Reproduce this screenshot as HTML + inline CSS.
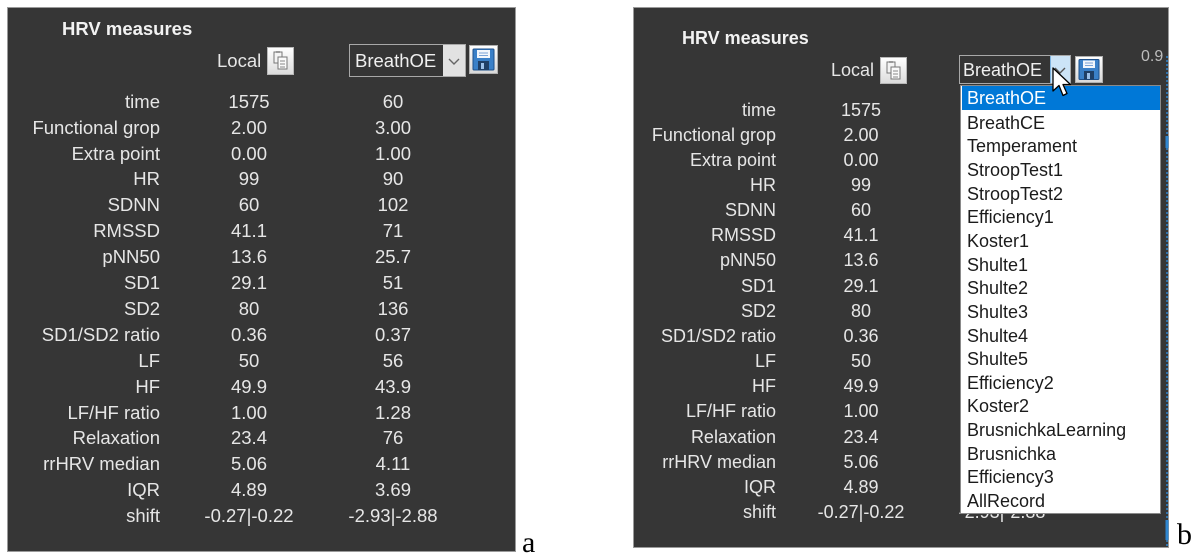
<!DOCTYPE html>
<html>
<head>
<meta charset="utf-8">
<style>
html,body{margin:0;padding:0;}
body{width:1200px;height:556px;background:#fff;position:relative;overflow:hidden;font-family:"Liberation Sans",Arial,sans-serif;}
.p{position:absolute;background:#363636;border:1px solid #9a9a9a;box-sizing:border-box;}
.t{position:absolute;white-space:nowrap;line-height:22px;height:22px;color:#e6e6e6;}
.L{font-size:18.5px;}
.R{font-size:18px;}
.lab{text-align:right;}
.c{text-align:center;width:160px;}
.li{position:absolute;left:1px;width:198px;height:24px;line-height:25px;font-size:18px;color:#1b1b1b;padding-left:5px;box-sizing:border-box;white-space:nowrap;}
.ser{position:absolute;font-family:"Liberation Serif","Times New Roman",serif;font-size:30px;color:#000;line-height:30px;}
</style>
</head>
<body>

<!-- LEFT PANEL -->
<div class="p" style="left:7px;top:7px;width:509px;height:545px;"></div>
<div class="t L" style="left:62px;top:18px;font-weight:bold;color:#f2f2f2;">HRV measures</div>
<div class="t L" style="left:217px;top:50px;">Local</div>
<svg style="position:absolute;left:267px;top:47px" width="27" height="28" viewBox="0 0 27 28">
  <defs><linearGradient id="bg1" x1="0" y1="0" x2="0" y2="1"><stop offset="0" stop-color="#ffffff"/><stop offset="1" stop-color="#dcdcdc"/></linearGradient></defs>
  <rect x="0.5" y="0.5" width="26" height="27" fill="url(#bg1)" stroke="#b8b8b8"/>
  <rect x="7" y="5" width="8" height="11" fill="#f4f4f4" stroke="#777"/>
  <rect x="11" y="10" width="9" height="12" fill="#fafafa" stroke="#777"/>
  <line x1="13" y1="14" x2="18" y2="14" stroke="#888"/>
  <line x1="13" y1="17" x2="18" y2="17" stroke="#888"/>
  <line x1="13" y1="20" x2="18" y2="20" stroke="#888"/>
  <rect x="9" y="4" width="4" height="2" fill="#999"/>
</svg>
<div style="position:absolute;left:349px;top:44px;width:117px;height:33px;border:1px solid #a8a8a8;box-sizing:border-box;background:#353535;"></div>
<div style="position:absolute;left:443px;top:45px;width:22px;height:31px;background:#e2e2e2;"></div>
<svg style="position:absolute;left:443px;top:45px" width="22" height="31"><polyline points="6,14 11,19 16,14" fill="none" stroke="#666" stroke-width="1.4"/></svg>
<div class="t L" style="left:355px;top:50px;color:#f0f0f0;">BreathOE</div>
<svg style="position:absolute;left:469px;top:45px" width="29" height="29" viewBox="0 0 29 29">
  <defs><linearGradient id="bg2" x1="0" y1="0" x2="0" y2="1"><stop offset="0" stop-color="#ffffff"/><stop offset="1" stop-color="#d8d8d8"/></linearGradient></defs>
  <rect x="0.5" y="0.5" width="28" height="28" fill="url(#bg2)" stroke="#b0b0b0"/>
  <rect x="4" y="4" width="21" height="21" rx="1" fill="#3a80c8" stroke="#1d4f8a"/>
  <rect x="8" y="5" width="13" height="8" fill="#f2f6fb"/>
  <line x1="10" y1="8" x2="19" y2="8" stroke="#7aa3d6"/>
  <line x1="10" y1="10.5" x2="19" y2="10.5" stroke="#7aa3d6"/>
  <rect x="9" y="16" width="11" height="9" fill="#1f3f66"/>
  <rect x="12" y="18" width="3" height="6" fill="#9cc0e8"/>
</svg>

<div class="t L lab" style="right:1040px;top:91px;">time</div>
<div class="t L lab" style="right:1040px;top:117px;">Functional grop</div>
<div class="t L lab" style="right:1040px;top:143px;">Extra point</div>
<div class="t L lab" style="right:1040px;top:168px;">HR</div>
<div class="t L lab" style="right:1040px;top:194px;">SDNN</div>
<div class="t L lab" style="right:1040px;top:220px;">RMSSD</div>
<div class="t L lab" style="right:1040px;top:246px;">pNN50</div>
<div class="t L lab" style="right:1040px;top:272px;">SD1</div>
<div class="t L lab" style="right:1040px;top:298px;">SD2</div>
<div class="t L lab" style="right:1040px;top:324px;">SD1/SD2 ratio</div>
<div class="t L lab" style="right:1040px;top:350px;">LF</div>
<div class="t L lab" style="right:1040px;top:376px;">HF</div>
<div class="t L lab" style="right:1040px;top:402px;">LF/HF ratio</div>
<div class="t L lab" style="right:1040px;top:427px;">Relaxation</div>
<div class="t L lab" style="right:1040px;top:453px;">rrHRV median</div>
<div class="t L lab" style="right:1040px;top:479px;">IQR</div>
<div class="t L lab" style="right:1040px;top:505px;">shift</div>

<div class="t L c" style="left:169px;top:91px;">1575</div>
<div class="t L c" style="left:169px;top:117px;">2.00</div>
<div class="t L c" style="left:169px;top:143px;">0.00</div>
<div class="t L c" style="left:169px;top:168px;">99</div>
<div class="t L c" style="left:169px;top:194px;">60</div>
<div class="t L c" style="left:169px;top:220px;">41.1</div>
<div class="t L c" style="left:169px;top:246px;">13.6</div>
<div class="t L c" style="left:169px;top:272px;">29.1</div>
<div class="t L c" style="left:169px;top:298px;">80</div>
<div class="t L c" style="left:169px;top:324px;">0.36</div>
<div class="t L c" style="left:169px;top:350px;">50</div>
<div class="t L c" style="left:169px;top:376px;">49.9</div>
<div class="t L c" style="left:169px;top:402px;">1.00</div>
<div class="t L c" style="left:169px;top:427px;">23.4</div>
<div class="t L c" style="left:169px;top:453px;">5.06</div>
<div class="t L c" style="left:169px;top:479px;">4.89</div>
<div class="t L c" style="left:169px;top:505px;">-0.27|-0.22</div>

<div class="t L c" style="left:313px;top:91px;">60</div>
<div class="t L c" style="left:313px;top:117px;">3.00</div>
<div class="t L c" style="left:313px;top:143px;">1.00</div>
<div class="t L c" style="left:313px;top:168px;">90</div>
<div class="t L c" style="left:313px;top:194px;">102</div>
<div class="t L c" style="left:313px;top:220px;">71</div>
<div class="t L c" style="left:313px;top:246px;">25.7</div>
<div class="t L c" style="left:313px;top:272px;">51</div>
<div class="t L c" style="left:313px;top:298px;">136</div>
<div class="t L c" style="left:313px;top:324px;">0.37</div>
<div class="t L c" style="left:313px;top:350px;">56</div>
<div class="t L c" style="left:313px;top:376px;">43.9</div>
<div class="t L c" style="left:313px;top:402px;">1.28</div>
<div class="t L c" style="left:313px;top:427px;">76</div>
<div class="t L c" style="left:313px;top:453px;">4.11</div>
<div class="t L c" style="left:313px;top:479px;">3.69</div>
<div class="t L c" style="left:313px;top:505px;">-2.93|-2.88</div>

<div class="ser" style="left:522px;top:528px;">a</div>

<!-- RIGHT PANEL -->
<div class="p" style="left:633px;top:7px;width:536px;height:541px;"></div>
<svg style="position:absolute;left:1164px;top:56px" width="5" height="490"><line x1="3" y1="0" x2="3" y2="490" stroke="#2f86d0" stroke-width="1.5" stroke-dasharray="2,2"/><rect x="1.5" y="80" width="3" height="12" fill="#2f86d0"/><rect x="1.5" y="464" width="3" height="20" fill="#2f86d0"/></svg>
<div class="t" style="left:1141px;top:46px;font-size:16px;color:#bdbdbd;">0.9</div>
<div class="t R" style="left:682px;top:27px;font-weight:bold;color:#f2f2f2;">HRV measures</div>
<div class="t R" style="left:831px;top:59px;">Local</div>
<svg style="position:absolute;left:880px;top:57px" width="27" height="27" viewBox="0 0 27 27">
  <defs><linearGradient id="bg3" x1="0" y1="0" x2="0" y2="1"><stop offset="0" stop-color="#ffffff"/><stop offset="1" stop-color="#dcdcdc"/></linearGradient></defs>
  <rect x="0.5" y="0.5" width="26" height="26" fill="url(#bg3)" stroke="#b8b8b8"/>
  <rect x="7" y="5" width="8" height="11" fill="#f4f4f4" stroke="#777"/>
  <rect x="11" y="10" width="9" height="12" fill="#fafafa" stroke="#777"/>
  <line x1="13" y1="14" x2="18" y2="14" stroke="#888"/>
  <line x1="13" y1="17" x2="18" y2="17" stroke="#888"/>
  <line x1="13" y1="20" x2="18" y2="20" stroke="#888"/>
  <rect x="9" y="4" width="4" height="2" fill="#999"/>
</svg>
<div style="position:absolute;left:959px;top:55px;width:112px;height:29px;border:1px solid #a8a8a8;box-sizing:border-box;background:#353535;"></div>
<div style="position:absolute;left:1050px;top:56px;width:20px;height:27px;background:#cce4f7;border-left:1px solid #7fb4e0;box-sizing:border-box;"></div>
<svg style="position:absolute;left:1050px;top:56px" width="20" height="27"><polyline points="5,12 10,17 15,12" fill="none" stroke="#555" stroke-width="1.4"/></svg>
<div class="t R" style="left:963px;top:59px;color:#f0f0f0;">BreathOE</div>
<svg style="position:absolute;left:1075px;top:56px" width="28" height="27" viewBox="0 0 28 27">
  <defs><linearGradient id="bg4" x1="0" y1="0" x2="0" y2="1"><stop offset="0" stop-color="#ffffff"/><stop offset="1" stop-color="#d8d8d8"/></linearGradient></defs>
  <rect x="0.5" y="0.5" width="27" height="26" fill="url(#bg4)" stroke="#b0b0b0"/>
  <rect x="4" y="3.5" width="20" height="20" rx="1" fill="#3a80c8" stroke="#1d4f8a"/>
  <rect x="8" y="4.5" width="12" height="7.5" fill="#f2f6fb"/>
  <line x1="10" y1="7" x2="18" y2="7" stroke="#7aa3d6"/>
  <line x1="10" y1="9.5" x2="18" y2="9.5" stroke="#7aa3d6"/>
  <rect x="9" y="15" width="10" height="8.5" fill="#1f3f66"/>
  <rect x="12" y="17" width="3" height="6" fill="#9cc0e8"/>
</svg>

<div class="t R lab" style="right:424px;top:98.5px;">time</div>
<div class="t R lab" style="right:424px;top:123.7px;">Functional grop</div>
<div class="t R lab" style="right:424px;top:148.8px;">Extra point</div>
<div class="t R lab" style="right:424px;top:174px;">HR</div>
<div class="t R lab" style="right:424px;top:199.1px;">SDNN</div>
<div class="t R lab" style="right:424px;top:224.3px;">RMSSD</div>
<div class="t R lab" style="right:424px;top:249.4px;">pNN50</div>
<div class="t R lab" style="right:424px;top:274.6px;">SD1</div>
<div class="t R lab" style="right:424px;top:299.7px;">SD2</div>
<div class="t R lab" style="right:424px;top:324.9px;">SD1/SD2 ratio</div>
<div class="t R lab" style="right:424px;top:350px;">LF</div>
<div class="t R lab" style="right:424px;top:375.2px;">HF</div>
<div class="t R lab" style="right:424px;top:400.3px;">LF/HF ratio</div>
<div class="t R lab" style="right:424px;top:425.5px;">Relaxation</div>
<div class="t R lab" style="right:424px;top:450.6px;">rrHRV median</div>
<div class="t R lab" style="right:424px;top:475.8px;">IQR</div>
<div class="t R lab" style="right:424px;top:500.9px;">shift</div>

<div class="t R c" style="left:781px;top:98.5px;">1575</div>
<div class="t R c" style="left:781px;top:123.7px;">2.00</div>
<div class="t R c" style="left:781px;top:148.8px;">0.00</div>
<div class="t R c" style="left:781px;top:174px;">99</div>
<div class="t R c" style="left:781px;top:199.1px;">60</div>
<div class="t R c" style="left:781px;top:224.3px;">41.1</div>
<div class="t R c" style="left:781px;top:249.4px;">13.6</div>
<div class="t R c" style="left:781px;top:274.6px;">29.1</div>
<div class="t R c" style="left:781px;top:299.7px;">80</div>
<div class="t R c" style="left:781px;top:324.9px;">0.36</div>
<div class="t R c" style="left:781px;top:350px;">50</div>
<div class="t R c" style="left:781px;top:375.2px;">49.9</div>
<div class="t R c" style="left:781px;top:400.3px;">1.00</div>
<div class="t R c" style="left:781px;top:425.5px;">23.4</div>
<div class="t R c" style="left:781px;top:450.6px;">5.06</div>
<div class="t R c" style="left:781px;top:475.8px;">4.89</div>
<div class="t R c" style="left:781px;top:500.9px;">-0.27|-0.22</div>

<div class="t R c" style="left:922px;top:500.9px;">-2.93|-2.88</div>

<div style="position:absolute;left:960px;top:85px;width:201px;height:429px;background:#fff;border:1px solid #8a8a8a;box-sizing:border-box;">
  <div class="li" style="top:0px;background:#0078d7;color:#fff;">BreathOE</div>
  <div class="li" style="top:24.65px;">BreathCE</div>
  <div class="li" style="top:48.3px;">Temperament</div>
  <div class="li" style="top:71.95px;">StroopTest1</div>
  <div class="li" style="top:95.6px;">StroopTest2</div>
  <div class="li" style="top:119.25px;">Efficiency1</div>
  <div class="li" style="top:142.9px;">Koster1</div>
  <div class="li" style="top:166.55px;">Shulte1</div>
  <div class="li" style="top:190.2px;">Shulte2</div>
  <div class="li" style="top:213.85px;">Shulte3</div>
  <div class="li" style="top:237.5px;">Shulte4</div>
  <div class="li" style="top:261.15px;">Shulte5</div>
  <div class="li" style="top:284.8px;">Efficiency2</div>
  <div class="li" style="top:308.45px;">Koster2</div>
  <div class="li" style="top:332.1px;">BrusnichkaLearning</div>
  <div class="li" style="top:355.75px;">Brusnichka</div>
  <div class="li" style="top:379.4px;">Efficiency3</div>
  <div class="li" style="top:403.05px;">AllRecord</div>
</div>

<svg style="position:absolute;left:1052px;top:67px" width="24" height="32" viewBox="0 0 24 32">
  <polygon points="1,1 1,24 7,18.5 11,28.5 15,26.5 11,17.5 18.5,17.5" fill="#fff" stroke="#000" stroke-width="1.3" stroke-linejoin="round"/>
</svg>

<div class="ser" style="left:1177px;top:520px;">b</div>

</body>
</html>
